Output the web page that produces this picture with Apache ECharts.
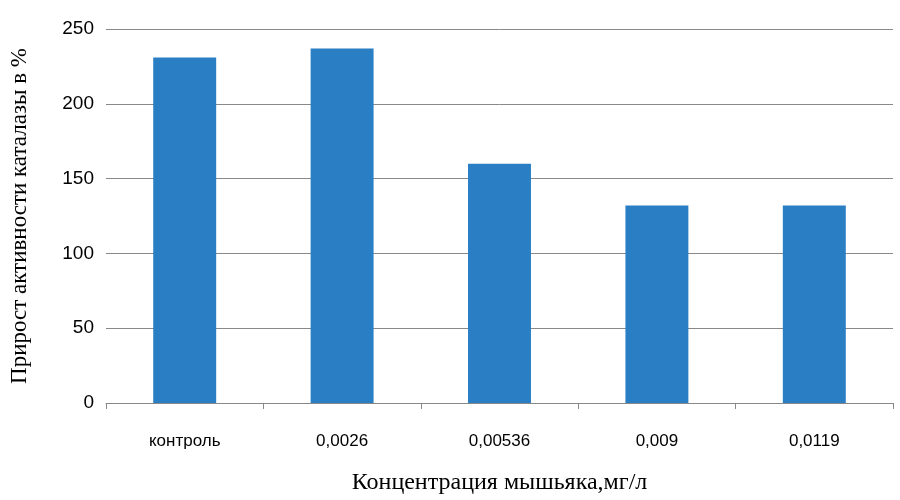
<!DOCTYPE html>
<html lang="ru">
<head>
<meta charset="UTF-8">
<title>Каталаза</title>
<script src="https://cdn.jsdelivr.net/npm/echarts@6/dist/echarts.min.js"></script>
<style>
  html, body { margin: 0; padding: 0; background: #fff; }
  #main { width: 900px; height: 500px; }
</style>
</head>
<body>
<div id="main"></div>
<script>
  var categories = ['контроль', '0,0026', '0,00536', '0,009', '0,0119'];
  var values = [231, 237, 160, 132, 132];

  var chart = echarts.init(document.getElementById('main'));
  var option = {
    animation: false,
    grid: { left: 103, right: 7, top: 29, bottom: 97 },
    xAxis: {
      type: 'category',
      data: categories,
      name: 'Концентрация мышьяка,мг/л',
      nameLocation: 'middle',
      nameGap: 68,
      nameTextStyle: { fontFamily: 'Liberation Serif', fontSize: 24, color: '#000' },
      axisLine: { lineStyle: { color: '#888' } },
      axisTick: { show: true, length: 6, lineStyle: { color: '#888' } },
      axisLabel: { fontFamily: 'Liberation Sans', fontSize: 17, color: '#000', margin: 30 }
    },
    yAxis: {
      type: 'value',
      min: 0, max: 250, interval: 50,
      name: 'Прирост активности каталазы в %',
      nameLocation: 'middle',
      nameGap: 75,
      nameTextStyle: { fontFamily: 'Liberation Serif', fontSize: 23, color: '#000' },
      axisLine: { show: false },
      axisTick: { show: false },
      splitLine: { lineStyle: { color: '#888' } },
      axisLabel: { fontFamily: 'Liberation Sans', fontSize: 19, color: '#000', margin: 12 }
    },
    series: [{
      type: 'bar',
      data: values,
      barWidth: '40%',
      itemStyle: { color: '#2a7fc4' }
    }]
  };
  chart.setOption(option);
</script>
</body>
</html>
